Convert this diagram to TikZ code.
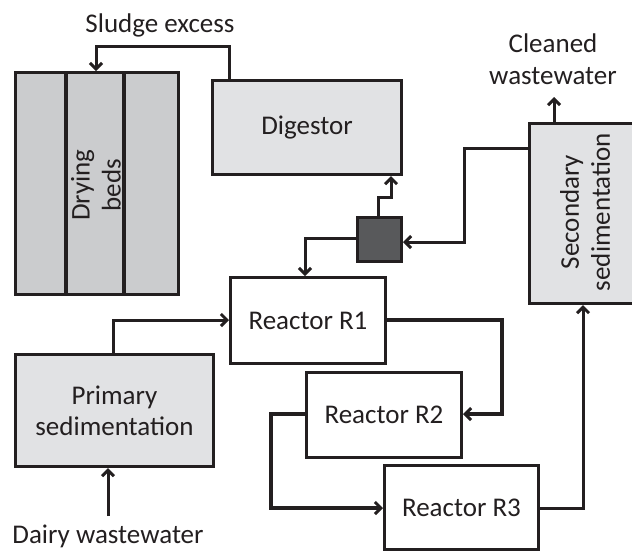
\documentclass[tikz,border=0pt]{standalone}
\usepackage{fontspec}
\setmainfont{Carlito}
\usetikzlibrary{arrows.meta}
\definecolor{bedgray}{HTML}{CBCCCE}
\definecolor{boxgray}{HTML}{E1E2E4}
\definecolor{dark}{HTML}{58595B}
\definecolor{ink}{HTML}{231F20}
\begin{document}
\begin{tikzpicture}[x=1pt,y=-1pt,
  every node/.style={font=\fontsize{27}{31}\selectfont, text=ink},
  unit/.style={draw=ink, line width=3pt, inner sep=0pt, anchor=north west},
  flow/.style={draw=ink, line width=3pt, -{Straight Barb[length=6pt,width=12pt,line width=3pt]}},
  lbl/.style={align=center, inner sep=0pt}]
\useasboundingbox (0,0) rectangle (632,550);
% drying beds
\node[unit, fill=bedgray, minimum width=163pt, minimum height=222pt] (beds) at (14,71) {};
\draw[ink, line width=4pt] (66,71) -- (66,293) (124,71) -- (124,293);
\node[lbl, rotate=90, align=center] (bedstxt) at (96,185) {Drying\\beds};
% digestor
\node[unit, fill=boxgray, minimum width=189pt, minimum height=94pt] (dig) at (211,79) {};
\node[lbl] at (dig.center) {Digestor};
% secondary sedimentation
\node[unit, fill=boxgray, minimum width=106pt, minimum height=180pt] (sec) at (528,122) {};
\node[lbl, rotate=90] at (585,212) {Secondary\\sedimentation};
% small square
\node[unit, fill=dark, minimum width=44pt, minimum height=44pt] (sq) at (356,216) {};
% reactors
\node[unit, fill=white, minimum width=155pt, minimum height=86pt] (r1) at (229,276) {};
\node[lbl] at (r1.center) {Reactor R1};
\node[unit, fill=white, minimum width=155pt, minimum height=85pt] (r2) at (305,371) {};
\node[lbl] at (r2.center) {Reactor R2};
\node[unit, fill=white, minimum width=154pt, minimum height=84pt] (r3) at (383,464) {};
\node[lbl] at (r3.center) {Reactor R3};
% primary sedimentation
\node[unit, fill=boxgray, minimum width=198pt, minimum height=112pt] (prim) at (14,353) {};
\node[lbl] at (prim.center) {Primary\\sedimentation};
% labels
\node[lbl] (sludge) at (160,25) {Sludge excess};
\node[lbl, font=\fontsize{27}{32}\selectfont] (clean) at (553,59) {Cleaned\\wastewater};
\node[lbl] (dairy) at (108,536) {Dairy wastewater};
\coordinate (dairyin) at (108,516);
\coordinate (cleanout) at (554,97);
% connectors
\draw[flow] (dig.north -| 229,0) |- (96,46) -- (beds.north -| 96,0);
\draw[flow] (sec.north -| cleanout) -- (cleanout);
\draw[flow] (sec.west |- 0,148) -| (464,242) -- (sq.east |- 0,242);
\draw[flow] (sq.north -| 378,0) |- (391,197) -- (dig.south -| 391,0);
\draw[flow] (sq.west |- 0,238) -| (r1.north -| 305,0);
\draw[flow] (dairyin) -- (prim.south -| dairyin);
\draw[flow] (prim.north -| 113,0) |- (r1.west |- 0,320);
\draw[flow, line width=3.6pt] (r1.east |- 0,320) -| (502,414) -- (r2.east |- 0,414);
\draw[flow, line width=3.4pt] (r2.west |- 0,414) -| (271,508) -- (r3.west |- 0,508);
\draw[flow] (r3.east |- 0,508) -| (sec.south -| 583,0);
\end{tikzpicture}
\end{document}
